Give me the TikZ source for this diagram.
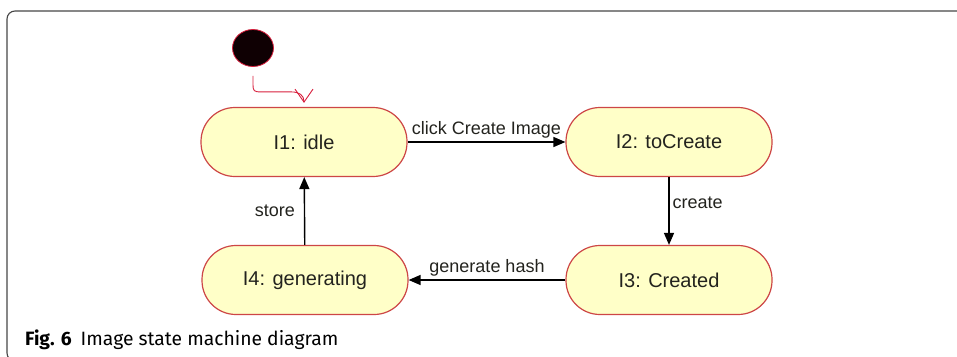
\documentclass[tikz,border=0pt]{standalone}
\usepackage{fontspec}
\setmainfont{Liberation Sans}
\newfontfamily\capfont{Fira Sans}
\usetikzlibrary{arrows.meta,shapes.geometric}

\definecolor{statefill}{RGB}{255,255,200}
\definecolor{stateborder}{RGB}{205,70,70}
\definecolor{initfill}{RGB}{15,0,3}
\definecolor{initred}{RGB}{215,30,60}
\definecolor{framegray}{RGB}{70,70,70}
\definecolor{textdark}{RGB}{35,35,30}

\tikzset{
  statebox/.style={draw=stateborder, fill=statefill, line width=1.2pt,
    rounded corners=34pt, minimum width=206pt, minimum height=69pt,
    inner sep=0pt, text=textdark, font=\fontsize{20}{22}\selectfont},
  initdot/.style={ellipse, draw=initred, fill=initfill, line width=0.8pt,
    minimum width=41pt, minimum height=37pt, inner sep=0pt},
  initedge/.style={draw=initred, line width=0.9pt,
    -{Straight Barb[length=13pt,width=18pt,line width=0.9pt]}},
  edge/.style={draw=black, line width=1.4pt,
    -{Triangle[length=12pt,width=10pt]}},
  edgelabel/.style={text=textdark, font=\fontsize{18}{20}\selectfont, inner sep=3pt},
  frame/.style={draw=framegray, line width=1.1pt, rounded corners=8pt}
}

\begin{document}
\begin{tikzpicture}[x=1pt,y=-1pt]
\useasboundingbox (0,0) rectangle (957,356);

% outer figure frame
\draw[frame] (975,361) -- (7,361) -- (7,11) -- (975,11);

% initial pseudo-state
\node[initdot] (init) at (253,48) {};

% states
\node[statebox] (I1) at (304,142) {I1: idle};
\node[statebox] (I2) at (669,142) {I2: toCreate};
\node[statebox] (I3) at (669,280) {I3: Created};
\node[statebox] (I4) at (305,280) {I4: generating};

% initial transition
\draw[initedge] ([yshift=-9pt]init.south) -- ++(0,9)
  .. controls ++(0,6) and ++(-7,0) .. ++(8,7) -- ++(30,0)
  .. controls ++(8,0) and ++(0,-8) .. ([yshift=4pt]I1.north);

% transitions
\draw[edge] (I1) -- node[edgelabel, above] {click Create Image} (I2);
\draw[edge] (I2) -- node[edgelabel, right, pos=0.38] {create} (I3);
\draw[edge] (I3) -- node[edgelabel, above] {generate hash} (I4);
\draw[edge] (I4) -- node[edgelabel, left, pos=0.5, xshift=-6pt] {store} (I1);

% caption
\node[anchor=base west, inner sep=0pt, text=black,
  font=\capfont\fontsize{19.3}{22}\selectfont] (cap) at (25,345)
  {\textbf{Fig. 6}\hspace{9pt}Image state machine diagram};
\end{tikzpicture}
\end{document}
